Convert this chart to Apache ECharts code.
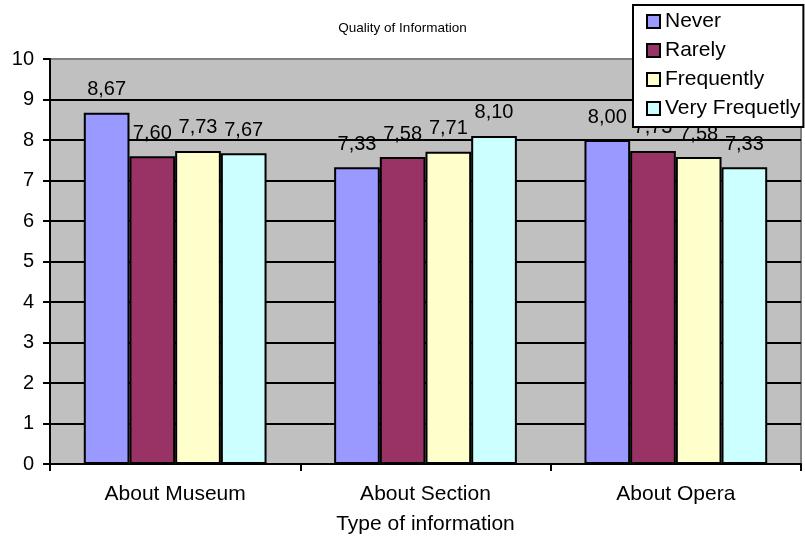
<!DOCTYPE html>
<html>
<head>
<meta charset="utf-8">
<script src="https://cdn.jsdelivr.net/npm/echarts@6/dist/echarts.min.js"></script>
<style>
  html, body { margin: 0; padding: 0; background: #ffffff; }
  #chart { width: 805px; height: 540px; }
</style>
</head>
<body>
<div id="chart"></div>
<script>
// Survey results: average rating of information quality by type and visit frequency
var categories = ['About Museum', 'About Section', 'About Opera'];
var seriesNames = ['Never', 'Rarely', 'Frequently', 'Very Frequetly'];
var neverValues = [8.67, 7.33, 8.00];
var rarelyValues = [7.60, 7.58, 7.73];
var frequentlyValues = [7.73, 7.71, 7.58];
var veryFrequentlyValues = [7.67, 8.10, 7.33];
var yTicks = [0, 1, 2, 3, 4, 5, 6, 7, 8, 9, 10];

var FONT = '"Liberation Sans", Arial, sans-serif';
var palette = ['#9999FF', '#993366', '#FFFFCC', '#CCFFFF'];
var valueSets = [neverValues, rarelyValues, frequentlyValues, veryFrequentlyValues];

// Black grid lines, with the top one matching the gray plot border
var splitColors = yTicks.map(function (v, i) {
  return i === yTicks.length - 1 ? '#808080' : '#000000';
});

var series = seriesNames.map(function (name, i) {
  return {
    name: name,
    type: 'bar',
    data: valueSets[i],
    barGap: '0%',
    barCategoryGap: '27%',
    itemStyle: { color: palette[i], borderColor: '#000000', borderWidth: 2 },
    label: {
      show: true,
      position: 'top',
      distance: 13,
      color: '#000000',
      fontFamily: FONT,
      fontSize: 20,
      formatter: function (p) { return p.value.toFixed(2).replace('.', ','); }
    }
  };
});

var chart = echarts.init(document.getElementById('chart'), null, { renderer: 'canvas' });
chart.setOption({
  animation: false,
  backgroundColor: '#ffffff',
  title: {
    text: 'Quality of Information',
    left: 'center',
    top: 21,
    padding: 0,
    textStyle: { fontFamily: FONT, fontSize: 13.5, fontWeight: 'normal', color: '#000000' }
  },
  legend: {
    orient: 'vertical',
    left: 633,
    top: 5,
    padding: [6, 3, 8, 13],
    itemGap: 8,
    itemWidth: 13,
    itemHeight: 13,
    icon: 'rect',
    backgroundColor: '#ffffff',
    borderColor: '#000000',
    borderWidth: 2,
    borderRadius: 0,
    textStyle: { fontFamily: FONT, fontSize: 21, color: '#000000' },
    data: seriesNames
  },
  grid: {
    left: 50,
    right: 4,
    top: 59,
    bottom: 76,
    show: true,
    backgroundColor: '#C0C0C0',
    borderColor: '#808080',
    borderWidth: 2
  },
  xAxis: {
    type: 'category',
    data: categories,
    name: 'Type of information',
    nameLocation: 'middle',
    nameGap: 50,
    nameTextStyle: { fontFamily: FONT, fontSize: 21, color: '#000000' },
    axisLine: { lineStyle: { color: '#000000', width: 2 } },
    axisTick: { show: true, alignWithLabel: false, length: 7, lineStyle: { color: '#000000', width: 2 } },
    axisLabel: { fontFamily: FONT, fontSize: 21, color: '#000000', margin: 20 },
    splitLine: { show: false }
  },
  yAxis: {
    type: 'value',
    min: 0,
    max: 10,
    interval: 1,
    axisLine: { show: true, lineStyle: { color: '#000000', width: 2 } },
    axisTick: { show: true, length: 7, lineStyle: { color: '#000000', width: 2 } },
    axisLabel: { fontFamily: FONT, fontSize: 20, color: '#000000', margin: 16 },
    splitLine: { show: true, lineStyle: { color: splitColors, width: 2 } }
  },
  series: series
});
</script>
</body>
</html>
